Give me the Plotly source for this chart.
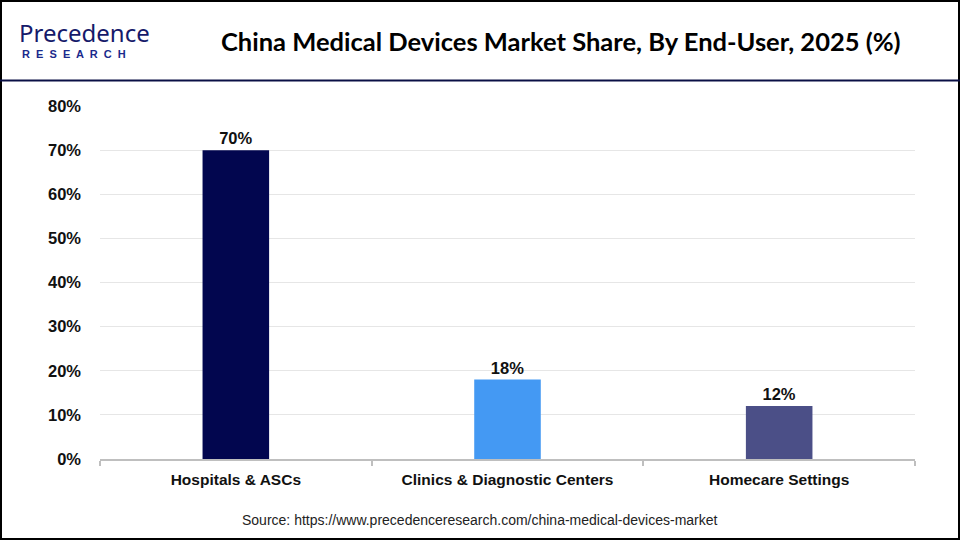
import plotly.graph_objects as go

categories = ["Hospitals & ASCs", "Clinics & Diagnostic Centers", "Homecare Settings"]
shares = [70, 18, 12]
bar_colors = ["#02064F", "#4499F3", "#4B4F87"]
y_ticks = [0, 10, 20, 30, 40, 50, 60, 70, 80]
y_tick_labels = [f"{v}%" for v in y_ticks]

W, H = 960, 540
L, R, T, B = 100, 45, 106, 81
pw, ph = W - L - R, H - T - B

def px(x):
    return (x - L) / pw

def py(y):
    return (H - B - y) / ph

fig = go.Figure()
fig.add_trace(go.Bar(
    x=categories, y=shares,
    marker=dict(color=bar_colors, line=dict(width=0)),
    width=0.245,
    text=[f"{v}%" for v in shares],
    textposition="outside",
    textfont=dict(family="Liberation Sans, Arial", size=16.5, color="#111111", weight="bold"),
    cliponaxis=False,
))

fig.update_layout(
    width=W, height=H,
    margin=dict(l=L, r=R, t=T, b=B),
    paper_bgcolor="white", plot_bgcolor="white",
    showlegend=False,
    bargap=0.75,
    xaxis=dict(
        showline=True, linecolor="#BFBFBF", linewidth=2,
        ticks="outside", tickson="boundaries", ticklen=5, tickcolor="#BFBFBF", tickwidth=2,
        tickfont=dict(family="Liberation Sans, Arial", size=15.5, color="#111111", weight="bold"),
        ticklabelstandoff=5,
        showgrid=False,
    ),
    yaxis=dict(
        range=[0, 80], tickvals=y_ticks, ticktext=y_tick_labels,
        showgrid=True, gridcolor="#E6E6E6", gridwidth=1,
        zeroline=False, showline=False,
        tickfont=dict(family="Liberation Sans, Arial", size=16.5, color="#111111", weight="bold"),
        ticklabelstandoff=18,
    ),
    shapes=[
        dict(type="rect", xref="paper", yref="paper", x0=px(1), x1=px(959), y0=py(539), y1=py(1),
             line=dict(color="#000000", width=2), fillcolor="rgba(0,0,0,0)", layer="above"),
        dict(type="line", xref="paper", yref="paper", x0=px(0), x1=px(960), y0=py(80.5), y1=py(80.5),
             line=dict(color="#0A0F45", width=2)),
    ],
    annotations=[
        dict(text="<b>China Medical Devices Market Share, By End-User, 2025 (%)</b>",
             xref="paper", yref="paper", x=px(561), y=py(41), xanchor="center", yanchor="middle",
             showarrow=False, font=dict(family="Lato, Open Sans", size=25.5, color="#000000")),
        dict(text="Precedence",
             xref="paper", yref="paper", x=px(17), y=py(32), xanchor="left", yanchor="middle",
             showarrow=False, font=dict(family="Noto Sans, Lato", size=24, color="#161A6A")),
        dict(text="<b>R  E  S  E  A  R  C  H</b>",
             xref="paper", yref="paper", x=px(20), y=py(54), xanchor="left", yanchor="middle",
             showarrow=False, font=dict(family="Liberation Sans, Arial", size=11, color="#1B2A8C")),
        dict(text="Source: https://www.precedenceresearch.com/china-medical-devices-market",
             xref="paper", yref="paper", x=px(480), y=py(520), xanchor="center", yanchor="middle",
             showarrow=False, font=dict(family="Liberation Sans, Arial", size=14, color="#222222")),
    ],
)

fig.write_html("out.html", config={"displayModeBar": False},
               post_script="document.body.style.margin='0px';")
